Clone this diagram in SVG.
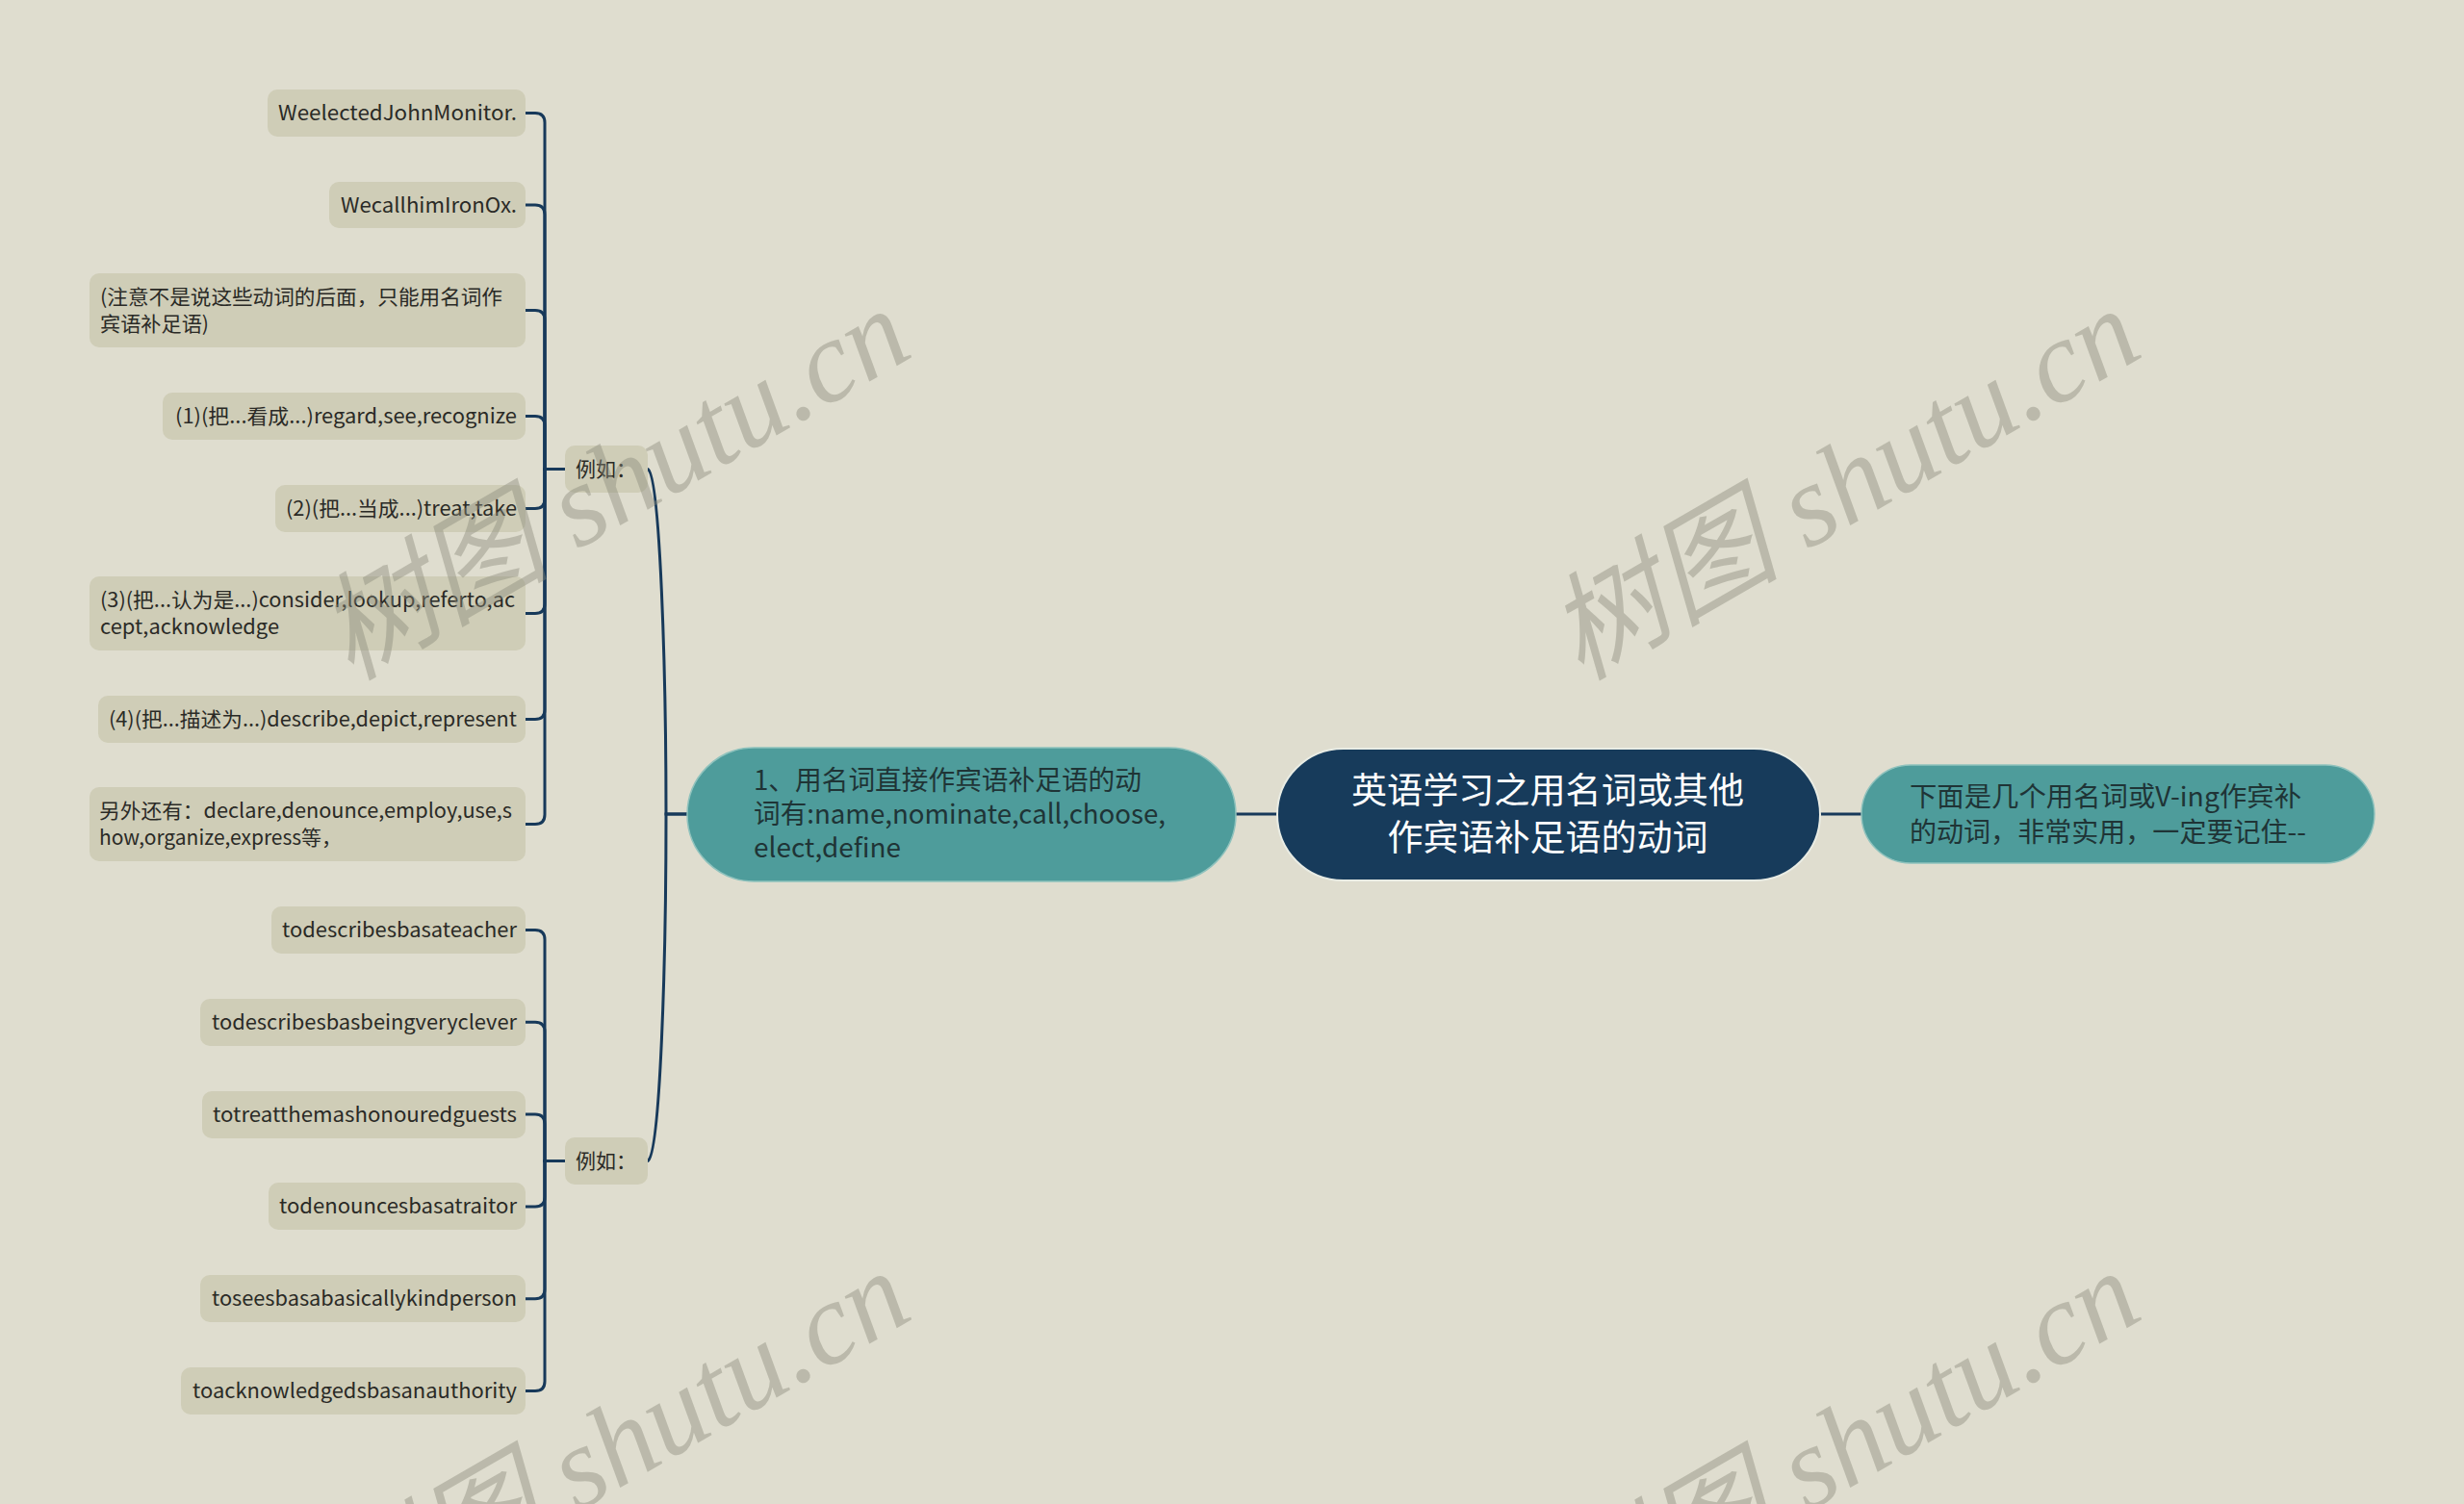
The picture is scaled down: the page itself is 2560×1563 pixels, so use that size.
<svg xmlns="http://www.w3.org/2000/svg" width="2560" height="1563" viewBox="0 0 2560 1563">
<style>
.bg{fill:#dfddcf}
.leaf rect{fill:#cfcdb7}
.leaf text{font-family:"Noto Sans CJK SC","Noto Sans",sans-serif;font-size:21px;fill:#2a2a26}
.end{text-anchor:end}
.conn path{fill:none;stroke:#17395a;stroke-width:3;stroke-linecap:round}
.teal rect{fill:#4e9c9b;stroke:#8fc2bd;stroke-width:1.5}
.teal text{font-family:"Noto Sans CJK SC","Noto Sans",sans-serif;font-size:28px;fill:#1f3436}
.root rect{fill:#173b5b;stroke:#e9ece4;stroke-width:2}
.root text{font-family:"Noto Sans CJK SC","Noto Sans",sans-serif;font-size:37px;fill:#ffffff;text-anchor:middle}
.wm{font-family:"Liberation Serif","Noto Sans CJK SC",serif;font-style:italic;font-size:121px;fill:#8a8a7a;opacity:0.42}
</style>
<rect class="bg" x="0" y="0" width="2560" height="1563"/>

<g id="connectors" class="conn">
  <path d="M1284 846 H1327"/>
  <path d="M1891 846 H1934"/>
  <path d="M714 846 H692 C692 700 686 495 673 487.5"/>
  <path d="M714 846 H692 C692 1000 686 1199 673 1206.5"/>
  <path d="M587 487.5 H566 V127.5 Q566 117.5 556 117.5 H546"/>
  <path d="M587 487.5 H566 V223 Q566 213 556 213 H546"/>
  <path d="M587 487.5 H566 V332.5 Q566 322.5 556 322.5 H546"/>
  <path d="M587 487.5 H566 V442.5 Q566 432.5 556 432.5 H546"/>
  <path d="M587 487.5 H566 V518.5 Q566 528.5 556 528.5 H546"/>
  <path d="M587 487.5 H566 V627.5 Q566 637.5 556 637.5 H546"/>
  <path d="M587 487.5 H566 V737.5 Q566 747.5 556 747.5 H546"/>
  <path d="M587 487.5 H566 V846.5 Q566 856.5 556 856.5 H546"/>
  <path d="M587 1206.5 H566 V976.5 Q566 966.5 556 966.5 H546"/>
  <path d="M587 1206.5 H566 V1072.3 Q566 1062.3 556 1062.3 H546"/>
  <path d="M587 1206.5 H566 V1168.1 Q566 1158.1 556 1158.1 H546"/>
  <path d="M587 1206.5 H566 V1243.9 Q566 1253.9 556 1253.9 H546"/>
  <path d="M587 1206.5 H566 V1339.7 Q566 1349.7 556 1349.7 H546"/>
  <path d="M587 1206.5 H566 V1435.5 Q566 1445.5 556 1445.5 H546"/>
</g>

<g id="root" class="root">
  <rect x="1327" y="778" width="564" height="137" rx="68.5"/>
  <text x="1608" y="835" textLength="408" lengthAdjust="spacingAndGlyphs">英语学习之用名词或其他</text>
  <text x="1608" y="884" textLength="333" lengthAdjust="spacingAndGlyphs">作宾语补足语的动词</text>
</g>

<g id="n-right" class="teal">
  <rect x="1934" y="795" width="533" height="102" rx="51"/>
  <text x="1984" y="838" textLength="407" lengthAdjust="spacingAndGlyphs">下面是几个用名词或V-ing作宾补</text>
  <text x="1984" y="875" textLength="412" lengthAdjust="spacingAndGlyphs">的动词，非常实用，一定要记住--</text>
</g>

<g id="n-1" class="teal">
  <rect x="714" y="777" width="570" height="139" rx="69.5"/>
  <text x="783" y="821" textLength="403" lengthAdjust="spacingAndGlyphs">1、用名词直接作宾语补足语的动</text>
  <text x="783" y="856" textLength="428" lengthAdjust="spacingAndGlyphs">词有:name,nominate,call,choose,</text>
  <text x="783" y="891" textLength="153" lengthAdjust="spacingAndGlyphs">elect,define</text>
</g>

<g id="eg-1" class="leaf">
  <rect x="587" y="463" width="86" height="49" rx="10"/>
  <text x="598" y="495">例如：</text>
</g>
<g id="eg-2" class="leaf">
  <rect x="587" y="1182" width="86" height="49" rx="10"/>
  <text x="598" y="1214">例如：</text>
</g>

<g id="leaf-1" class="leaf"><rect x="278" y="93" width="268" height="49" rx="10"/><text class="end" x="537" y="125" textLength="248" lengthAdjust="spacingAndGlyphs">WeelectedJohnMonitor.</text></g>
<g id="leaf-2" class="leaf"><rect x="342" y="189" width="204" height="48" rx="10"/><text class="end" x="537" y="221" textLength="183" lengthAdjust="spacingAndGlyphs">WecallhimIronOx.</text></g>
<g id="leaf-3" class="leaf"><rect x="93" y="284" width="453" height="77" rx="10"/><text x="104" y="316" textLength="418" lengthAdjust="spacingAndGlyphs">(注意不是说这些动词的后面，只能用名词作</text><text x="104" y="344" textLength="113" lengthAdjust="spacingAndGlyphs">宾语补足语)</text></g>
<g id="leaf-4" class="leaf"><rect x="169" y="408" width="377" height="49" rx="10"/><text class="end" x="537" y="440" textLength="355" lengthAdjust="spacingAndGlyphs">(1)(把...看成...)regard,see,recognize</text></g>
<g id="leaf-5" class="leaf"><rect x="286" y="504" width="260" height="49" rx="10"/><text class="end" x="537" y="536" textLength="240" lengthAdjust="spacingAndGlyphs">(2)(把...当成...)treat,take</text></g>
<g id="leaf-6" class="leaf"><rect x="93" y="599" width="453" height="77" rx="10"/><text x="104" y="631" textLength="431" lengthAdjust="spacingAndGlyphs">(3)(把...认为是...)consider,lookup,referto,ac</text><text x="104" y="659" textLength="186" lengthAdjust="spacingAndGlyphs">cept,acknowledge</text></g>
<g id="leaf-7" class="leaf"><rect x="102" y="723" width="444" height="49" rx="10"/><text class="end" x="537" y="755" textLength="424" lengthAdjust="spacingAndGlyphs">(4)(把...描述为...)describe,depict,represent</text></g>
<g id="leaf-8" class="leaf"><rect x="93" y="818" width="453" height="77" rx="10"/><text x="103" y="850" textLength="429" lengthAdjust="spacingAndGlyphs">另外还有：declare,denounce,employ,use,s</text><text x="103" y="878" textLength="252" lengthAdjust="spacingAndGlyphs">how,organize,express等，</text></g>

<g id="leaf-9" class="leaf"><rect x="282" y="942" width="264" height="49" rx="10"/><text class="end" x="537" y="974" textLength="244" lengthAdjust="spacingAndGlyphs">todescribesbasateacher</text></g>
<g id="leaf-10" class="leaf"><rect x="208" y="1038" width="338" height="49" rx="10"/><text class="end" x="537" y="1070" textLength="317" lengthAdjust="spacingAndGlyphs">todescribesbasbeingveryclever</text></g>
<g id="leaf-11" class="leaf"><rect x="210" y="1134" width="336" height="49" rx="10"/><text class="end" x="537" y="1166" textLength="316" lengthAdjust="spacingAndGlyphs">totreatthemashonouredguests</text></g>
<g id="leaf-12" class="leaf"><rect x="279" y="1229" width="267" height="49" rx="10"/><text class="end" x="537" y="1261" textLength="247" lengthAdjust="spacingAndGlyphs">todenouncesbasatraitor</text></g>
<g id="leaf-13" class="leaf"><rect x="208" y="1325" width="338" height="49" rx="10"/><text class="end" x="537" y="1357" textLength="317" lengthAdjust="spacingAndGlyphs">toseesbasabasicallykindperson</text></g>
<g id="leaf-14" class="leaf"><rect x="188" y="1421" width="358" height="49" rx="10"/><text class="end" x="537" y="1453" textLength="337" lengthAdjust="spacingAndGlyphs">toacknowledgedsbasanauthority</text></g>

<g id="watermarks">
  <text class="wm" x="364" y="708" transform="rotate(-30 364 708)">树图 shutu.cn</text>
  <text class="wm" x="1642" y="708" transform="rotate(-30 1642 708)">树图 shutu.cn</text>
  <text class="wm" x="364" y="1708" transform="rotate(-30 364 1708)">树图 shutu.cn</text>
  <text class="wm" x="1642" y="1708" transform="rotate(-30 1642 1708)">树图 shutu.cn</text>
</g>
</svg>
